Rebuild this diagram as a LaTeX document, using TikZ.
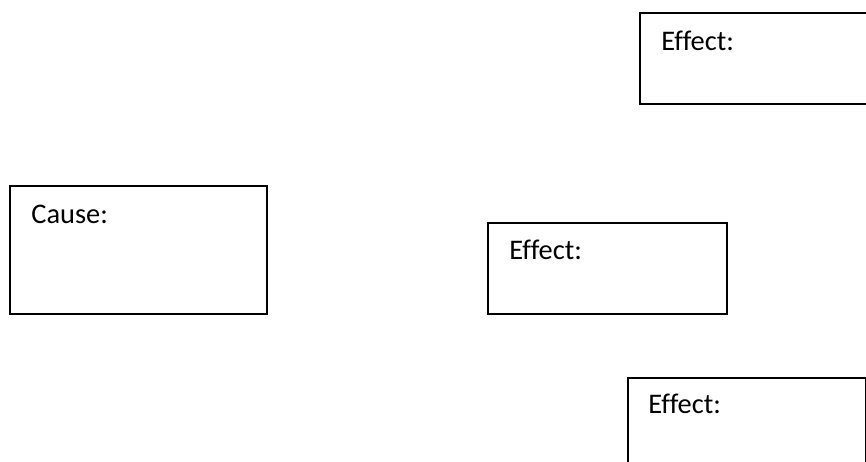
\documentclass[tikz,border=0pt]{standalone}
\usepackage{fontspec}
\setmainfont{Carlito}[Ligatures=NoCommon]
\usetikzlibrary{positioning}

\begin{document}
\begin{tikzpicture}[x=0.5pt, y=-0.5pt,
  box/.style={draw, line width=1pt, anchor=north west, inner sep=0pt},
  lbl/.style={anchor=base west, inner sep=0pt, font=\fontsize{14.2}{17}\selectfont}]
\clip (0,0) rectangle (866,461);
% boxes
\node[box, minimum width=119pt, minimum height=45.5pt] (effectA) at (639,12) {};
\node[box, minimum width=128.5pt, minimum height=64pt] (cause) at (9,185) {};
\node[box, minimum width=119.5pt, minimum height=45.5pt] (effectB) at (487,222) {};
\node[box, minimum width=119pt, minimum height=46pt] (effectC) at (627,377) {};
% texts
\node[lbl] (effectAtxt) at ([shift={(22,38)}]effectA.north west) {Effect:};
\node[lbl] (causetxt) at ([shift={(22,38)}]cause.north west) {Cause:};
\node[lbl] (effectBtxt) at ([shift={(22,37)}]effectB.north west) {Effect:};
\node[lbl] (effectCtxt) at ([shift={(21,36)}]effectC.north west) {Effect:};
\end{tikzpicture}
\end{document}
